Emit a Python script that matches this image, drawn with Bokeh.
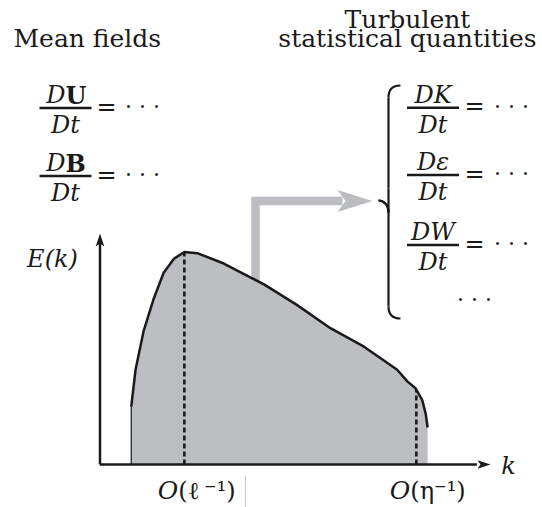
import numpy as np
from bokeh.plotting import figure
from bokeh.models import Range1d
from bokeh.core.properties import value
from bokeh.embed import file_html
from bokeh.resources import INLINE

# ---------------- data (spectrum in arbitrary units: k axis 0..10, E axis 0..1)
k = [0.80, 0.91, 1.12, 1.38, 1.63, 1.89, 2.16, 2.49, 3.17, 3.85, 4.20,
     5.05, 5.90, 6.76, 7.27, 7.61, 7.87, 8.08, 8.25, 8.34, 8.39]
E = [0.25, 0.41, 0.58, 0.72, 0.83, 0.89, 0.92, 0.915, 0.87, 0.81, 0.78,
     0.69, 0.59, 0.51, 0.45, 0.41, 0.36, 0.33, 0.28, 0.22, 0.16]
k_marks = [2.16, 8.10]                       # O(l^-1), O(eta^-1)
k_mark_labels = [("O", "(\u2113\u2009\u207b\u00b9)"), ("O", "(\u03b7\u207b\u00b9)")]
axis_k_max = 10.0
axis_E_max = 1.0

left_title = "Mean fields"
right_title = ["Turbulent", "statistical quantities"]
left_eqs = [("D", "U"), ("D", "B")]          # italic D + bold vector
right_eqs = ["DK", "D\u03b5", "DW"]

# ---------------- layout (picture pixel coordinates)
W, H = 542, 507
ORIGIN = (99.5, 464.0)       # pixel of k=0, E=0
PX_PER_K = 39.05
PX_PER_E = 231.0
TXT_DY = -8                  # baseline correction for the svg text

FONT = "DejaVu Serif"
FS = "24px"
INK = "#1a1a1a"
FILL = "#bdbec2"
ARROW = "#bcbdc1"

p = figure(width=W, height=H, output_backend="svg", toolbar_location=None,
           x_range=Range1d(0, W), y_range=Range1d(H, 0),
           min_border=0, x_axis_location=None, y_axis_location=None,
           outline_line_color=None, background_fill_color="white")
p.grid.visible = False
p.title.visible = False

p.extra_x_ranges = {"k": Range1d((0 - ORIGIN[0]) / PX_PER_K, (W - ORIGIN[0]) / PX_PER_K)}
p.extra_y_ranges = {"E": Range1d((ORIGIN[1] - H) / PX_PER_E, (ORIGIN[1] - 0) / PX_PER_E)}
KE = dict(x_range_name="k", y_range_name="E")


def txt(x, y, t, style="normal", align="left", size=FS):
    p.text(x=[x], y=[y + TXT_DY], text=[t], text_font=value(FONT), text_font_size=value(size),
           text_font_style=value(style), text_align=value(align),
           text_baseline=value("alphabetic"), text_color=INK)


# gray arrow (drawn first; its foot is hidden by the spectrum fill)
p.line(x=[255, 255, 342], y=[300, 200.5, 200.5], line_width=8.5,
       line_color=ARROW, line_join="miter")
p.patch(x=[372, 337, 345, 337], y=[200.5, 189.5, 200.5, 211.5],
        fill_color=ARROW, line_color=None)

# spectrum
p.varea(x=k, y1=[0] * len(k), y2=E, fill_color=FILL, **KE)
p.segment(x0=[k[0]], y0=[0], x1=[k[0]], y1=[E[0]], line_color=INK, line_width=1.2, **KE)
p.line(x=k, y=E, line_color=INK, line_width=2.5, **KE)
E_marks = list(np.interp(k_marks, k, E))
p.segment(x0=k_marks, y0=[0, 0], x1=k_marks, y1=E_marks, line_color=INK,
          line_width=2.6, line_dash="5 3", **KE)

# axes
p.segment(x0=[0, 0], y0=[0, 0], x1=[axis_k_max * 0.965, 0], y1=[0, axis_E_max * 0.96],
          line_color=INK, line_width=2.5, **KE)
xt = ORIGIN[0] + axis_k_max * PX_PER_K
yt = ORIGIN[1] - axis_E_max * PX_PER_E
p.patches(xs=[[xt, xt - 13, xt - 10, xt - 13], [ORIGIN[0], ORIGIN[0] - 4.3, ORIGIN[0], ORIGIN[0] + 4.3]],
          ys=[[ORIGIN[1], ORIGIN[1] - 4.3, ORIGIN[1], ORIGIN[1] + 4.3], [yt, yt + 13, yt + 10, yt + 13]],
          fill_color=INK, line_color=None)

# axis labels
txt(52, 266, "E(k)", style="italic", align="center")
txt(508, 473, "k", style="italic", align="center")
for km, (a, b) in zip(k_marks, k_mark_labels):
    xm = ORIGIN[0] + km * PX_PER_K
    txt(xm - 6, 498, a, style="italic", align="right", size="25px")
    txt(xm - 6, 498, b, style="normal", align="left")
p.segment(x0=[245], y0=[475], x1=[245], y1=[507], line_color="#c8c8c8", line_width=1)

# titles
txt(13, 46, left_title, size="25px")
txt(407, 27, right_title[0], align="center", size="25px")
txt(407, 46, right_title[1], align="center", size="25px")


def frac(xc, ybar, width=52):
    p.segment(x0=[xc - width / 2], y0=[ybar], x1=[xc + width / 2], y1=[ybar],
              line_color=INK, line_width=2.4)
    txt(xc, ybar + 25, "Dt", style="italic", align="center")


def rhs(xeq, xdots, ybar):
    txt(xeq, ybar + 6.5, "=", align="center")
    txt(xdots, ybar + 6.5, "\u00b7 \u00b7 \u00b7", align="center", size="22px")


for (d, v), ybar in zip(left_eqs, [107.5, 175.5]):
    frac(65, ybar)
    txt(65, ybar - 5, d, style="italic", align="right")
    txt(65, ybar - 5, v, style="bold", align="left")
    rhs(106, 142, ybar)

for num, ybar in zip(right_eqs, [107.3, 174.5, 244.5]):
    frac(432.5, ybar)
    txt(432.5, ybar - 5, num, style="italic", align="center")
    rhs(474, 511, ybar)
txt(474, 306.5, "\u00b7 \u00b7 \u00b7", align="center", size="22px")

# brace
bx, tipx, hx = 388, 378, 400
top, mid, bot = 85, 200, 318
p.bezier(x0=[hx, bx, tipx, bx, bx, bx], y0=[top, top + 12, mid, mid + 12, mid - 12, bot - 12],
         x1=[bx, bx, bx, tipx, bx, hx], y1=[top + 12, mid - 12, mid + 12, mid, bot - 12, bot],
         cx0=[bx + 4, bx, tipx + 5, bx, bx, bx], cy0=[top, top + 12, mid, mid + 4, mid - 12, bot - 4],
         cx1=[bx, bx, bx, tipx + 5, bx, bx + 4], cy1=[top + 4, mid - 12, mid + 4, mid, bot - 12, bot],
         line_color=INK, line_width=2.2)

open("out.html", "w").write(file_html(p, INLINE))
